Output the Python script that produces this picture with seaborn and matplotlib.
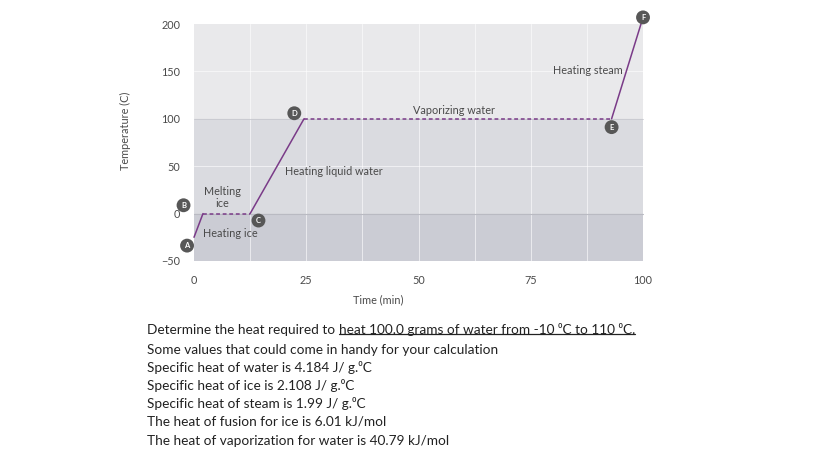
import matplotlib
matplotlib.use('Agg')
import matplotlib.pyplot as plt
from matplotlib.lines import Line2D
import pandas as pd
import seaborn as sns

# Heating curve of water: point labels, time (min), temperature (C)
point_names = ['A', 'B', 'C', 'D', 'E', 'F']
times = [0, 2, 12.5, 24.5, 93, 100]
temps = [-25, 0, 0, 100, 100, 207]
# segment kind between consecutive points
seg_kinds = ['heat', 'phase', 'heat', 'phase', 'heat']

x_ticks = [0, 25, 50, 75, 100]
y_ticks = [-50, 0, 50, 100, 150, 200]

question = 'Determine the heat required to '
question_ul = 'heat 100.0 grams of water from -10 \u2070C to 110 \u2070C.'
info_lines = [
    'Some values that could come in handy for your calculation',
    'Specific heat of water is 4.184 J/ g.\u2070C',
    'Specific heat of ice is 2.108 J/ g.\u2070C',
    'Specific heat of steam is 1.99 J/ g.\u2070C',
    'The heat of fusion for ice is 6.01 kJ/mol',
    'The heat of vaporization for water is 40.79 kJ/mol',
]

# build a long table, one group per segment
rows = []
for i, kind in enumerate(seg_kinds):
    for j in (i, i + 1):
        rows.append({'time': times[j], 'temp': temps[j], 'seg': i, 'kind': kind})
df = pd.DataFrame(rows)

sns.set_style('white')
plt.rcParams['font.family'] = ['Lato', 'DejaVu Sans']

purple = '#7a3b88'
txt_gray = '#4a4a4a'
lab_fs = 7.8

fig = plt.figure(figsize=(8.28, 4.71), dpi=100)
ax = fig.add_axes([0.2343, 0.4459, 0.5423, 0.5031])

# background bands
ax.axhspan(100, 200, color='#e9e9eb', zorder=0)
ax.axhspan(0, 100, color='#dadbe0', zorder=0)
ax.axhspan(-50, 0, color='#cbccd4', zorder=0)
for gx in [12.5 * k for k in range(1, 8)]:
    ax.axvline(gx, color='white', lw=0.7, alpha=0.6, zorder=1)
for gy in [50, 150]:
    ax.axhline(gy, color='white', lw=0.7, alpha=0.6, zorder=1)
ax.axhline(0, color='#b9bac2', lw=0.8, zorder=1)
ax.axhline(100, color='#c8c9cf', lw=0.6, zorder=1)

sns.lineplot(data=df, x='time', y='temp', units='seg', style='kind',
             estimator=None, sort=False, color=purple, lw=1.1,
             dashes={'heat': '', 'phase': (2.5, 1.8)}, legend=False,
             ax=ax, zorder=3)
for line in ax.get_lines():
    line.set_clip_on(False)

ax.set_xlim(0, 100)
ax.set_ylim(-50, 200)
ax.set_xticks([12.5 * k for k in range(9)])
ax.set_xticklabels([str(int(v)) if v in x_ticks else '' for v in [12.5 * k for k in range(9)]])
ax.set_yticks(y_ticks)
ax.set_yticklabels([str(v).replace('-', '\u2212') for v in y_ticks])
ax.tick_params(axis='both', width=0.6, color='#777777', labelsize=lab_fs,
               labelcolor=txt_gray)
ax.tick_params(axis='x', direction='inout', length=8, pad=6)
ax.tick_params(axis='y', direction='out', length=6, pad=4)
for s in ax.spines.values():
    s.set_visible(False)
ax.set_xlabel('Time (min)', fontsize=lab_fs, color=txt_gray)
ax.xaxis.set_label_coords(0.41, -0.14)
ax.set_ylabel('Temperature (C)', fontsize=lab_fs, color=txt_gray)
ax.yaxis.set_label_coords(-0.14, 0.55)

# lettered point badges
badge_off = {'A': (-5, -6), 'B': (-14, 6), 'C': (6, -5), 'D': (-7, 4), 'E': (0, -6), 'F': (0, 0)}
for name, t, y in zip(point_names, times, temps):
    ax.annotate(name, (t, y), xytext=badge_off[name], textcoords='offset points',
                ha='center', va='center', fontsize=5.5, fontweight='bold', color='white',
                bbox=dict(boxstyle='circle,pad=0.45', fc='#575757', ec='none'),
                annotation_clip=False, zorder=5)

# phase labels
lab_kw = dict(fontsize=lab_fs, color=txt_gray, zorder=4)
ax.text(2.0, -21, 'Heating ice', va='center', ha='left', **lab_kw)
ax.text(6.3, 17, 'Melting\nice', va='center', ha='center', linespacing=1.05, **lab_kw)
ax.text(20.3, 44.5, 'Heating liquid water', va='center', ha='left', **lab_kw)
ax.text(48.7, 108.5, 'Vaporizing water', va='center', ha='left', **lab_kw)
ax.text(95.5, 151, 'Heating steam', va='center', ha='right', **lab_kw)

# question text below the chart
fs = 9.8
x0 = 147 / 828
t1 = fig.text(x0, 1 - 330 / 471, question, fontsize=fs, color='#222222', va='center')
t2 = ax.annotate(question_ul, xy=(1, 0), xycoords=t1, va='bottom', ha='left',
                 fontsize=fs, color='#222222', annotation_clip=False)
line_y = [350, 368, 386, 404, 422, 441]
for yy, s in zip(line_y, info_lines):
    fig.text(x0, 1 - yy / 471, s, fontsize=fs, color='#222222', va='center')

fig.canvas.draw()
bb = t2.get_window_extent().transformed(fig.transFigure.inverted())
fig.add_artist(Line2D([bb.x0, bb.x1], [bb.y0 + 0.004, bb.y0 + 0.004],
                      transform=fig.transFigure, color='#222222', lw=0.9))

fig.savefig('out.png', dpi=100, facecolor='white')
